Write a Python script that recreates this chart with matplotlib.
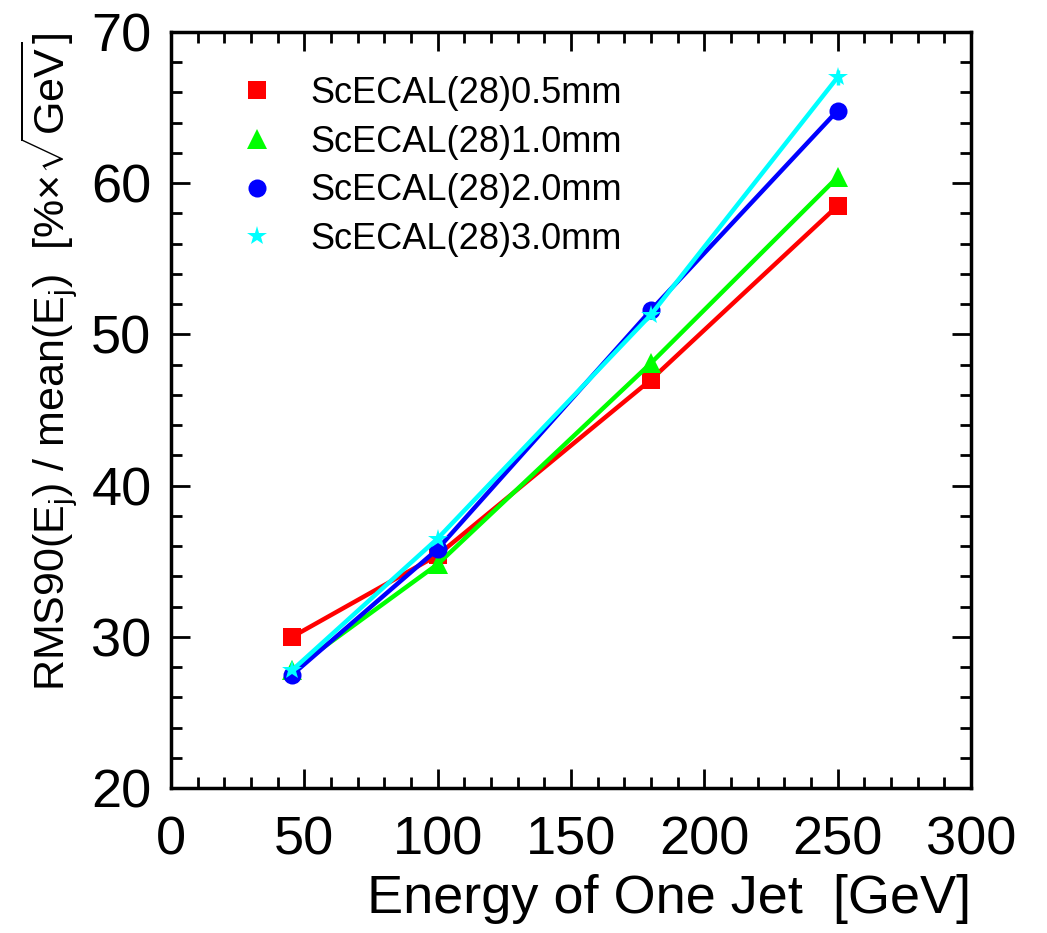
import matplotlib
matplotlib.use("Agg")
import matplotlib.pyplot as plt
from matplotlib.lines import Line2D
from matplotlib.ticker import MultipleLocator

energy = [45.5, 100, 180, 250]
res_05 = [30.0, 35.4, 47.0, 58.5]
res_10 = [27.8, 34.8, 48.1, 60.4]
res_20 = [27.5, 35.8, 51.6, 64.8]
res_30 = [27.8, 36.5, 51.3, 67.0]
err_05 = [0.2, 0.2, 0.3, 0.4]
err_10 = [0.2, 0.2, 0.3, 0.4]
err_20 = [0.2, 0.2, 0.3, 0.5]
err_30 = [0.2, 0.2, 0.3, 0.5]
labels = ["ScECAL(28)0.5mm", "ScECAL(28)1.0mm", "ScECAL(28)2.0mm", "ScECAL(28)3.0mm"]
colors = ["#ff0000", "#00ff00", "#0000ff", "#00ffff"]
markers = ["s", "^", "o", "*"]
msizes = [13, 14, 13, 15]

plt.rcParams['font.family'] = ['Liberation Sans', 'DejaVu Sans']
plt.rcParams['mathtext.fontset'] = 'custom'
plt.rcParams['mathtext.rm'] = 'Liberation Sans'
plt.rcParams['mathtext.it'] = 'Liberation Sans:italic'

fig = plt.figure(figsize=(10.47, 9.33), dpi=100)
ax = fig.add_axes([0.1633, 0.1554, 0.764, 0.8103])

series = [res_05, res_10, res_20, res_30]
errs = [err_05, err_10, err_20, err_30]
handles = []
for y, e, c, m, ms, lab in zip(series, errs, colors, markers, msizes, labels):
    ax.errorbar(energy, y, yerr=e, color=c, marker=m, markersize=ms, lw=3.2,
                elinewidth=2.5, capsize=0, markeredgewidth=0)
    handles.append(Line2D([], [], color=c, marker=m, markersize=ms, linestyle='none',
                          markeredgewidth=0, label=lab))

ax.set_xlim(0, 300)
ax.set_ylim(20, 70)
ax.xaxis.set_major_locator(MultipleLocator(50))
ax.xaxis.set_minor_locator(MultipleLocator(10))
ax.yaxis.set_major_locator(MultipleLocator(10))
ax.yaxis.set_minor_locator(MultipleLocator(2))
ax.tick_params(which='both', direction='in', top=True, right=True, width=2)
ax.tick_params(which='major', length=14, labelsize=39)
ax.tick_params(axis='x', which='major', pad=20)
ax.tick_params(axis='y', which='major', pad=14)
ax.tick_params(which='minor', length=8)
for s in ax.spines.values():
    s.set_linewidth(2.5)

ax.set_xlabel("Energy of One Jet  [GeV]", fontsize=39, loc='right', labelpad=6)
ax.set_ylabel(r"RMS90(E$_{\rm j}$) / mean(E$_{\rm j}$)  [%$\times\sqrt{\rm GeV}$]",
              fontsize=31, loc='top', labelpad=8)

leg = ax.legend(handles=handles, loc='upper left', bbox_to_anchor=(0.044, 0.985),
                frameon=False, fontsize=26, handletextpad=1.0, labelspacing=0.38,
                handlelength=1.0)

fig.savefig("out.png", dpi=100)
